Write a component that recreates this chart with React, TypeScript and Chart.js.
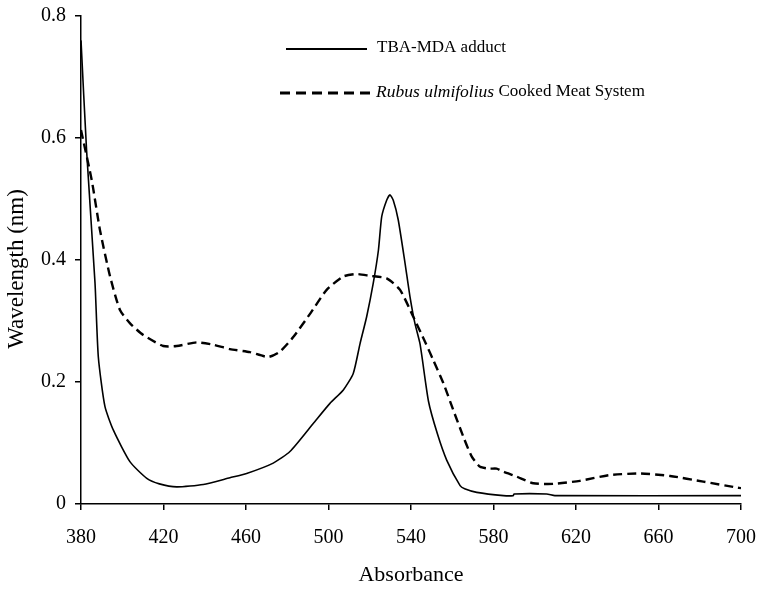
import { useEffect, useRef } from "react";
import { Chart, registerables } from "chart.js";

Chart.register(...registerables);

// Wavelength axis values (x) and absorbance (y) for the TBA-MDA adduct
const tbaX = [380, 382.7, 386.8, 388.4, 391.6, 395.7, 403.8, 411.9, 418, 426.4, 439.3, 452.2, 460.3, 473.2, 481.3, 492.6, 500.7, 507.2, 512, 515.3, 518.5, 521.7, 524.2, 525.8, 528.2, 529.8, 531.4, 533.8, 537.1, 539.5, 541.9, 544.4, 548.5, 552.8, 557.3, 563.8, 566, 571.9, 584.8, 589.5, 590, 605.8, 609.8, 700];
const tbaY = [0.76, 0.58, 0.362, 0.241, 0.16, 0.121, 0.069, 0.042, 0.033, 0.028, 0.032, 0.043, 0.05, 0.067, 0.086, 0.132, 0.165, 0.187, 0.214, 0.263, 0.307, 0.362, 0.416, 0.471, 0.498, 0.507, 0.498, 0.466, 0.395, 0.34, 0.296, 0.262, 0.168, 0.115, 0.072, 0.03, 0.025, 0.019, 0.0137, 0.0137, 0.0164, 0.0164, 0.0137, 0.0137];

// Rubus ulmifolius cooked meat system
const rubusX = [380, 385.2, 389.2, 394.1, 398.9, 403.8, 410.2, 419.9, 426.4, 436.1, 444.2, 452.2, 461.9, 470.8, 476.5, 483, 491.3, 499.1, 507.2, 513.7, 520.1, 528.2, 534.7, 541.1, 546.8, 550.8, 555.7, 560.5, 565.4, 569.4, 573.5, 578, 581.5, 584.8, 591.2, 599.3, 609, 621.9, 636.5, 651, 665.6, 681.7, 698, 700];
const rubusY = [0.613, 0.531, 0.449, 0.373, 0.318, 0.296, 0.277, 0.259, 0.259, 0.265, 0.261, 0.254, 0.249, 0.241, 0.25, 0.274, 0.313, 0.351, 0.373, 0.377, 0.374, 0.37, 0.351, 0.307, 0.266, 0.236, 0.198, 0.154, 0.11, 0.078, 0.061, 0.058, 0.058, 0.053, 0.045, 0.034, 0.033, 0.038, 0.0475, 0.05, 0.046, 0.0366, 0.027, 0.026];

const xTicks = [380, 420, 460, 500, 540, 580, 620, 660, 700];
const yTicks = [0, 0.2, 0.4, 0.6, 0.8];
const yTickLabels = ["0", "0.2", "0.4", "0.6", "0.8"];

const seriesNames = ["TBA-MDA adduct", "Cooked Meat System"];
const seriesItalicPrefix = ["", "Rubus ulmifolius"];
const xTitle = "Absorbance";
const yTitle = "Wavelength (nm)";

const FONT = '"Liberation Serif", "Times New Roman", serif';

const legendPlugin = {
  id: "customLegend",
  afterDraw(chart: any) {
    const ctx = chart.ctx;
    const area = chart.chartArea;
    ctx.save();
    ctx.strokeStyle = "#000";
    ctx.fillStyle = "#000";
    // row 1: solid
    ctx.lineWidth = 2;
    ctx.setLineDash([]);
    ctx.beginPath();
    ctx.moveTo(286, 49);
    ctx.lineTo(367, 49);
    ctx.stroke();
    // row 2: dashed
    ctx.lineWidth = 3;
    ctx.setLineDash([10, 6]);
    ctx.beginPath();
    ctx.moveTo(280, 93);
    ctx.lineTo(370, 93);
    ctx.stroke();
    ctx.setLineDash([]);

    ctx.textBaseline = "middle";
    ctx.textAlign = "left";
    ctx.font = `17px ${FONT}`;
    ctx.fillText(seriesItalicPrefix[0] + seriesNames[0], 377, 48);
    ctx.font = `italic 17.5px ${FONT}`;
    ctx.fillText(seriesItalicPrefix[1], 376, 92);
    const w = ctx.measureText(seriesItalicPrefix[1] + " ").width;
    ctx.font = `17px ${FONT}`;
    ctx.fillText(seriesNames[1], 376 + w, 92);

    // y axis title
    ctx.translate(17, (area.top + area.bottom) / 2 + 9);
    ctx.rotate(-Math.PI / 2);
    ctx.textAlign = "center";
    ctx.font = `23px ${FONT}`;
    ctx.fillText(yTitle, 0, 0);
    ctx.restore();
  },
};

export default function App() {
  const ref = useRef<HTMLCanvasElement>(null);
  useEffect(() => {
    if (!ref.current) return;
    Chart.defaults.font.family = FONT;
    Chart.defaults.color = "#000";
    const chart = new Chart(ref.current, {
      type: "line",
      data: {
        datasets: [
          {
            label: seriesNames[0],
            data: tbaX.map((x, i) => ({ x, y: tbaY[i] })),
            borderColor: "#000",
            borderWidth: 1.6,
            pointRadius: 0,
            tension: 0.2,
            fill: false,
          },
          {
            label: seriesItalicPrefix[1] + " " + seriesNames[1],
            data: rubusX.map((x, i) => ({ x, y: rubusY[i] })),
            borderColor: "#000",
            borderWidth: 2.4,
            borderDash: [9, 5],
            pointRadius: 0,
            tension: 0.2,
            fill: false,
          },
        ],
      },
      options: {
        responsive: false,
        animation: false,
        layout: { padding: { left: 0, right: 18, top: 16, bottom: 0 } },
        plugins: { legend: { display: false }, tooltip: { enabled: false } },
        scales: {
          x: {
            type: "linear",
            min: 380,
            max: 700,
            afterBuildTicks: (s: any) => {
              s.ticks = xTicks.map((v) => ({ value: v }));
            },
            afterFit: (s: any) => {
              s.height = 86;
              s.paddingLeft = 0;
              s.paddingRight = 0;
            },
            ticks: {
              font: { size: 20, family: FONT },
              color: "#000",
              padding: 16,
              maxRotation: 0,
              autoSkip: false,
              callback: (v: any) => String(v),
            },
            grid: {
              display: true,
              drawOnChartArea: false,
              drawTicks: true,
              tickLength: 6,
              color: "#000",
              lineWidth: 1.5,
            },
            border: { display: true, color: "#000", width: 1.5 },
            title: {
              display: true,
              text: xTitle,
              font: { size: 22, family: FONT },
              color: "#000",
              padding: { top: 0, bottom: 2 },
            },
          },
          y: {
            type: "linear",
            min: 0,
            max: 0.8,
            afterBuildTicks: (s: any) => {
              s.ticks = yTicks.map((v) => ({ value: v }));
            },
            afterFit: (s: any) => {
              s.width = 81;
              s.paddingTop = 0;
              s.paddingBottom = 0;
            },
            ticks: {
              font: { size: 20, family: FONT },
              color: "#000",
              padding: 9,
              autoSkip: false,
              callback: (v: any) => {
                const i = yTicks.findIndex((t) => Math.abs(t - v) < 1e-9);
                return i >= 0 ? yTickLabels[i] : "";
              },
            },
            grid: {
              display: true,
              drawOnChartArea: false,
              drawTicks: true,
              tickLength: 6,
              color: "#000",
              lineWidth: 1.5,
            },
            border: { display: true, color: "#000", width: 1.5 },
            title: { display: false },
          },
        },
      },
      plugins: [legendPlugin],
    });
    return () => chart.destroy();
  }, []);
  return (
    <div style={{ position: "absolute", left: 0, top: 0, width: 759, height: 590, background: "#fff" }}>
      <canvas ref={ref} width={759} height={590} />
    </div>
  );
}
